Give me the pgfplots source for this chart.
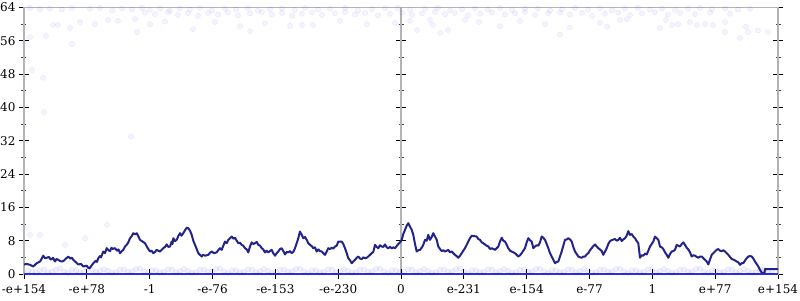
\documentclass[border=0pt]{standalone}
\usepackage{pgfplots}
\pgfplotsset{compat=1.18}
\usepackage{pgfplotstable}
\usepackage{fontspec}
\setmainfont{DejaVu Serif}
\definecolor{lineblue}{RGB}{35,35,140}
\definecolor{zeroblue}{RGB}{45,45,225}
\definecolor{axgray}{RGB}{180,180,180}

\pgfplotstableread{
x y
24 2.3
27 2.4
30 2.2
33.3 1.8
36.7 2.6
40 3.0
41.5 3.6
43.3 4.4
45 3.8
46.7 3.9
49 4.1
50.5 3.5
51.7 3.6
53 3.9
55 3.0
56.5 3.6
58.3 3.4
61 3.0
63.3 3.1
65.5 3.6
68.3 4.2
70.5 3.7
72 3.9
73.3 3.4
76 2.8
78.3 2.3
81 2.4
83.3 1.8
86.7 2.0
88.5 1.4
90 1.5
93.3 2.6
96 3.2
97 2.9
98.3 3.8
100 4.3
101 4.0
103.3 5.4
105 5.0
106.7 6.2
108.5 5.7
110 5.5
111.5 6.3
112.5 6.0
115 6.2
117 5.6
118.5 5.9
120 5.0
121.5 5.4
123.3 5.8
125 6.6
126.7 7.0
128.3 7.6
130 8.6
131.5 9.0
133.3 9.8
135 9.5
136.7 9.8
138.5 9.0
140 8.2
142.5 7.8
145 7.4
147.5 6.3
150 5.4
151.5 5.6
153.3 5.0
155 5.3
156.7 5.8
158.3 5.6
160 5.4
163.3 6.2
165 6.5
166.7 7.1
168.3 6.5
170 6.6
171.7 7.8
172.5 7.2
173.3 8.6
175 7.9
176.7 8.2
178.5 9.2
180 9.8
181.5 9.2
183.3 9.8
185 10.5
186.7 11.1
188.3 11.0
190 10.4
191.7 9.4
193.3 8.0
195 7.0
196.7 6.0
198.3 5.0
201.7 4.2
203 4.6
205 4.4
208.3 4.6
210 5.1
211.7 5.4
214 5.0
216.7 5.2
218.5 5.8
220 6.2
221.7 5.8
223.3 6.8
225 7.8
226.7 7.4
228.3 8.2
230 8.6
231.7 9.0
233.3 8.5
235 8.7
236.7 8.0
238.3 7.4
240 7.5
241.7 7.0
243.3 6.8
245 6.2
246.7 5.9
248.3 5.2
250 6.6
251.7 7.6
253.3 7.2
255 7.4
256.7 7.7
258.3 7.0
260 6.8
261.7 6.2
263.3 5.9
265 5.2
266.7 5.6
268.3 5.2
270 5.5
271.7 5.8
273.3 5.0
275 4.4
276.7 5.0
278.3 5.4
280 6.0
281.7 6.2
283.3 5.5
285 4.7
286.7 5.3
288.3 5.2
290 5.5
291.7 5.0
293.3 5.3
295 6.2
296.7 7.4
298.3 8.6
300 10.2
301.7 9.4
303.3 8.6
305 8.9
306.7 8.2
308.3 7.4
310 7.0
311.7 6.7
313.3 6.2
315 6.4
316.7 5.4
318.3 5.9
320 5.5
321.7 5.4
323.3 5.0
325 4.6
326.7 5.4
328.3 6.2
330 6.0
331.7 6.3
333.3 6.1
335 6.6
336.7 6.8
338.3 7.8
340 7.8
341.7 7.8
343.3 7.2
345 6.2
346.7 5.0
348.3 3.8
350 3.3
351.7 2.6
353.3 3.0
355 3.4
356.7 3.9
358.3 4.2
360 3.7
361.7 3.6
363.3 4.0
365 3.8
366.7 3.9
368.3 4.2
370 4.6
371.7 5.0
373.3 5.3
375 7.0
376.7 6.5
378.3 6.2
380 6.9
381.7 6.6
383.3 6.5
385 7.1
386.7 6.4
388.3 6.2
390 6.5
391.7 6.2
393.3 6.4
395 6.2
398.3 7.2
400 7.6
401.7 8.2
403.3 9.6
405 10.6
406.7 11.6
408.3 12.2
410 11.4
411.7 10.6
413.3 9.4
415 7.2
416.7 5.4
418.3 5.7
420 5.8
421.7 6.3
423.3 7.0
425 8.2
426.7 8.0
428.3 9.4
430 8.2
431.7 8.9
433.3 9.8
435 9.0
436.7 8.2
438.3 6.6
440 6.0
441.7 5.5
443.3 5.7
445 5.4
446.7 5.6
448.3 5.8
450 5.2
451.7 5.4
453.3 5.0
455 4.6
456.7 4.3
458.3 3.9
460 4.4
461.7 5.0
463.3 5.6
465 6.2
466.7 7.0
468.3 7.8
470 8.6
471.7 9.2
474 9.1
476.7 9.0
478.3 8.4
480 8.2
481.7 7.6
483.3 7.4
486 6.9
488.3 6.6
490 6.0
491.7 6.2
493.3 6.0
495 5.8
496.7 6.2
498.3 6.6
500 7.8
501.7 8.7
503.3 8.0
505 7.8
506.7 7.0
508.3 6.2
510 5.6
511.7 5.4
513.3 5.2
515 5.0
516.7 4.6
518.3 4.2
520 4.5
521.7 5.0
523.3 5.6
525 6.2
526.7 7.6
528.3 8.6
530 8.1
531.7 7.8
533.3 6.2
535 6.6
536.7 6.9
538.3 6.8
540 7.6
541.7 9.0
543.3 8.7
545 8.2
546.7 7.2
548.3 6.2
550 5.0
551.7 4.2
553.3 3.4
555 2.6
556.7 2.9
558.3 3.0
560 4.2
561.7 5.4
563.3 6.8
565 8.2
566.7 8.3
568.3 8.6
570 8.3
571.7 7.8
573.3 6.5
575 5.4
576.7 4.8
578.3 4.2
580 4.0
581.7 3.9
583.3 4.2
585 4.2
586.7 4.7
588.3 5.0
590 5.7
591.7 6.2
593.3 6.7
595 7.1
596.7 6.6
598.3 6.2
600 5.9
601.7 5.5
603.3 4.6
605 5.4
606.7 6.2
608.3 7.2
610 7.9
612.5 8.2
615 8.4
616.7 8.0
618.3 8.2
620 8.7
621.7 7.9
623.3 8.3
625 8.6
626.7 9.2
628.3 10.3
630 9.4
631.7 9.6
633.3 9.0
635 8.6
636.7 7.9
638.3 7.4
640 3.9
641.7 4.5
643.3 4.4
645 4.9
646.7 4.7
648.3 5.6
650 6.6
651.7 7.2
653.3 7.8
655 9.0
656.7 8.6
658.3 8.2
660 6.6
662.3 6.3
663.7 5.8
665 5.2
666.7 4.6
668.3 3.9
670 4.8
671.7 5.4
673.3 5.5
675 5.8
676.7 7.0
678.3 6.8
680 6.6
681.7 7.2
683.3 7.6
685 7.0
686.7 6.3
688.3 5.9
690 5.2
691.7 4.2
693.3 4.5
695 4.4
696.7 4.1
698.3 3.9
700 4.2
701.7 4.2
703.3 3.8
705 3.4
706.7 3.0
708.3 2.3
710 3.5
711.7 4.6
713.3 5.0
715 5.4
716.7 5.8
718.3 6.0
720 5.6
721.7 5.5
723.3 5.7
725 5.4
726.7 5.0
728.3 4.6
730 4.1
731.7 3.6
734 3.4
736.7 3.0
738.3 2.8
740 2.2
741.7 2.6
743.3 2.6
746 3.6
748.3 4.2
750 4.3
751.7 4.2
753.3 3.7
755 3.0
756.7 2.4
758.3 1.8
760 1.0
761.7 0.3
764.5 0.3
765 1.2
771.7 1.2
778 1.2
}\walk

\pgfplotstableread{
x y
30 63.9
40 63.6
50 63.8
62 63.5
72 63.9
90 63.7
100 63.9
112 63.3
122 63.8
132 63.5
142 63.9
150 63.4
160 63.7
170 63.2
180 63.8
190 63.5
200 63.9
212 63.3
225 63.7
236 63.5
248 63.9
258 63.2
270 63.6
282 63.8
295 63.4
305 63.9
318 63.5
330 63.7
345 63.9
358 63.3
372 63.6
385 63.8
398 63.9
410 63.4
425 63.7
438 63.9
450 63.3
462 63.6
475 63.8
488 63.5
500 63.9
512 63.4
525 63.7
538 63.8
550 63.3
562 63.6
575 63.9
588 63.5
600 63.8
612 63.3
625 63.7
638 63.9
650 63.5
662 63.8
675 63.4
688 63.7
700 63.9
712 63.6
725 63.8
738 63.5
750 63.7
145 62.8
155 62.4
168 62.9
178 62.2
188 62.6
198 62.0
208 62.7
218 62.3
228 62.8
238 62.1
250 62.6
262 62.9
272 62.3
282 62.7
292 62.0
302 62.5
312 62.8
322 62.2
335 62.6
345 62.9
355 62.3
365 62.7
378 62.1
390 62.5
402 62.8
412 62.2
422 62.6
435 62.9
445 62.4
455 62.7
468 62.1
480 62.5
492 62.8
505 62.3
515 62.6
525 62.9
535 62.2
548 62.6
560 62.8
570 62.3
582 62.7
592 62.0
605 62.5
618 62.8
630 62.2
642 62.6
655 62.9
668 62.3
680 62.7
695 62.4
710 62.8
730 62.5
53 59.8
58 59.8
70 59.1
80 60.5
95 60.0
108 61.0
118 60.8
135 61.2
150 60.0
165 60.6
193 58.8
215 60.5
240 59.5
265 60.2
290 59.6
302 59.8
313 59.8
340 60.8
367 60.0
395 60.3
410 60.8
430 61.0
433 59.8
448 58.6
465 61.0
479 60.5
500 59.5
520 60.8
545 60.0
570 59.2
600 60.3
607 59.4
620 61.0
627 61.2
660 59.1
666 61.0
672 59.8
678 60.0
690 60.5
697 59.8
705 60.0
713 59.8
725 60.5
746 59.4
758 58.5
30 56.9
46 57.2
72 55.2
137 58.1
32 49.0
43 47.1
417 58.6
440 57.9
725 58.1
740 56.7
748 58.1
768 58.1
250 58.3
560 57.5
44 38.9
131 33.0
107 11.8
30 9.4
40 9.4
65 7.0
85 8.6
}\topdots

\pgfplotstableread{
x y
28 0.8
32 0.5
36 0.4
40 0.9
44 1.1
48 0.4
52 0.6
56 1.0
60 1.3
64 0.6
68 0.3
72 1.0
76 0.9
80 0.4
84 0.5
88 1.2
92 1.0
96 0.5
100 0.7
104 1.1
108 0.8
112 0.3
116 0.4
120 1.0
124 1.1
128 0.5
132 0.6
136 1.2
140 1.3
144 0.6
148 0.3
152 0.9
156 0.9
160 0.4
164 0.5
168 1.1
172 1.0
176 0.4
180 0.7
184 1.2
188 0.8
192 0.3
196 0.4
200 1.0
204 1.1
208 0.5
212 0.6
216 1.2
220 1.3
224 0.6
228 0.3
232 0.9
236 0.9
240 0.4
244 0.5
248 1.1
252 1.0
256 0.4
260 0.7
264 1.2
268 0.8
272 0.3
276 0.4
280 1.0
284 1.1
288 0.5
292 0.6
296 1.2
300 1.3
304 0.6
308 0.3
312 0.9
316 0.9
320 0.4
324 0.5
328 1.1
332 1.0
336 0.4
340 0.7
344 1.2
348 0.8
352 0.3
356 0.4
360 1.0
364 1.1
368 0.5
372 0.6
376 1.2
380 1.3
384 0.6
388 0.3
392 0.9
396 0.9
400 0.4
404 0.5
408 1.1
412 1.0
416 0.4
420 0.7
424 1.2
428 0.8
432 0.3
436 0.4
440 1.0
444 1.1
448 0.5
452 0.6
456 1.2
460 1.3
464 0.6
468 0.3
472 0.9
476 0.9
480 0.4
484 0.5
488 1.1
492 1.0
496 0.4
500 0.7
504 1.2
508 0.8
512 0.3
516 0.4
520 1.0
524 1.1
528 0.5
532 0.6
536 1.2
540 1.3
544 0.6
548 0.3
552 0.9
556 0.9
560 0.4
564 0.5
568 1.1
572 1.0
576 0.4
580 0.7
584 1.2
588 0.8
592 0.3
596 0.4
600 1.0
604 1.1
608 0.5
612 0.6
616 1.2
620 1.3
624 0.6
628 0.3
632 0.9
636 0.9
640 0.4
644 0.5
648 1.1
652 1.0
656 0.4
660 0.7
664 1.2
668 0.8
672 0.3
676 0.4
680 1.0
684 1.1
688 0.5
692 0.6
696 1.2
700 1.3
704 0.6
708 0.3
712 0.9
716 0.9
720 0.4
724 0.5
728 1.1
732 1.0
736 0.4
740 0.7
744 1.2
748 0.8
752 0.3
756 0.4
760 1.0
764 1.1
768 0.5
772 0.6
}\botdots

\pgfplotsset{
  common/.style={
    scale only axis, width=754pt, height=266.5pt,
    ymin=0, ymax=64,
    at={(0,0)}, anchor=south west,
    ytick={0,8,...,64}, minor y tick num=1,
    tick align=center, major tick length=10pt, minor tick length=5pt,
    major tick style={black, line width=0.9pt},
    minor tick style={black!75, line width=0.7pt},
    axis line style={axgray, line width=1.6pt},
    tick label style={font=\fontsize{12}{14}\selectfont},
    /pgf/number format/assume math mode=true,
  }
}

\begin{document}
\begin{tikzpicture}
\begin{axis}[common, xmin=-377, xmax=377,
  axis x line=none, axis y line*=middle, yticklabels={}]
\end{axis}
\begin{axis}[common, xmin=24, xmax=778,
  xtick={24,86.83,149.67,212.5,275.33,338.17,401,463.83,526.67,589.5,652.33,715.17,778},
  xticklabels={-e+154,-e+78,-1,-e-76,-e-153,-e-230,0,e-231,e-154,e-77,1,e+77,e+154},
  xtick pos=bottom, ytick pos=both, yticklabel pos=left,
  xticklabel style={yshift=-2pt}]
\addplot[only marks, mark=*, mark size=2.6pt,
  mark options={draw=blue, fill=blue, draw opacity=0.08, fill opacity=0.045}]
  table[x=x,y=y] {\topdots};
\addplot[only marks, mark=*, mark size=2.6pt,
  mark options={draw=blue, fill=blue, draw opacity=0.09, fill opacity=0.05}]
  table[x=x,y=y] {\botdots};
\addplot[zeroblue, line width=3pt] coordinates {(24,0) (778,0)};
\addplot[lineblue, line width=2pt, line join=round] table[x=x,y=y] {\walk};
\end{axis}
\pgfresetboundingbox
\path[use as bounding box] (-24pt,-26pt) rectangle (776pt,274pt);
\end{tikzpicture}
\end{document}
